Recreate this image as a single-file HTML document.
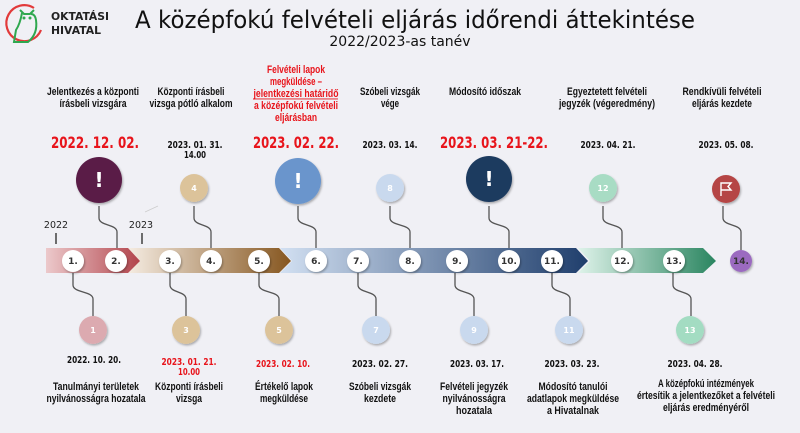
<!DOCTYPE html>
<html><head><meta charset="utf-8"><style>
html,body{margin:0;padding:0;background:#f0f0f5;}
svg{display:block}
.l{font-family:"Liberation Sans",sans-serif;font-size:11px;fill:#111;text-anchor:middle;font-weight:bold;}
.d{font-family:"DejaVu Sans",sans-serif;font-size:9.5px;font-weight:bold;fill:#111;text-anchor:middle;}
.D{font-family:"DejaVu Sans",sans-serif;font-size:16px;font-weight:bold;fill:#e8141b;text-anchor:middle;}
.n{font-family:"DejaVu Sans",sans-serif;font-size:9px;font-weight:bold;fill:#333;text-anchor:middle;}
.c{font-family:"DejaVu Sans",sans-serif;font-size:8px;font-weight:bold;fill:#fff;text-anchor:middle;}
.w{stroke:#555;stroke-width:1.3;fill:none}
</style></head><body>
<svg width="800" height="433" viewBox="0 0 800 433" xmlns="http://www.w3.org/2000/svg">
<defs>
<linearGradient id="gr" x1="0" x2="1"><stop offset="0" stop-color="#ecc9cb"/><stop offset="1" stop-color="#b2434b"/></linearGradient>
<linearGradient id="gb" x1="0" x2="1"><stop offset="0" stop-color="#f5ece2"/><stop offset="1" stop-color="#86561f"/></linearGradient>
<linearGradient id="gu" x1="0" x2="1"><stop offset="0" stop-color="#d2e0f2"/><stop offset="1" stop-color="#1f3e6c"/></linearGradient>
<linearGradient id="gg" x1="0" x2="1"><stop offset="0" stop-color="#dff3ea"/><stop offset="1" stop-color="#2a8560"/></linearGradient>
<filter id="sh" x="-30%" y="-30%" width="160%" height="160%"><feDropShadow dx="1" dy="1.5" stdDeviation="1" flood-opacity="0.3"/></filter>
</defs>
<rect width="800" height="433" fill="#f0f0f5"/>
<!-- logo -->
<path d="M34 8 A18 18 0 1 0 41 30" stroke="#e23a3a" stroke-width="2.2" fill="none"/>
<path d="M20 10 L24 14 L30 14 L34 10 M22 13 Q20 24 16 30 L14 42 L28 42 Q38 34 36 20 Q35 14 31 14" stroke="#2fa84f" stroke-width="2" fill="none"/>
<circle cx="24" cy="18" r="1.5" fill="#2fa84f"/><circle cx="30" cy="18" r="1.5" fill="#2fa84f"/>
<text x="51" y="20" font-family="DejaVu Sans,sans-serif" font-weight="bold" font-size="11" fill="#222" textLength="58" lengthAdjust="spacingAndGlyphs">OKTATÁSI</text>
<text x="51" y="34" font-family="DejaVu Sans,sans-serif" font-weight="bold" font-size="11" fill="#222" textLength="50" lengthAdjust="spacingAndGlyphs">HIVATAL</text>
<text x="135" y="28" font-family="DejaVu Sans,sans-serif" font-size="24" fill="#111" textLength="560" lengthAdjust="spacingAndGlyphs">A középfokú felvételi eljárás időrendi áttekintése</text>
<text x="400" y="46" font-family="DejaVu Sans,sans-serif" font-size="14" fill="#111" text-anchor="middle">2022/2023-as tanév</text>

<!-- top labels -->
<text class="l" x="93" y="95" textLength="92" lengthAdjust="spacingAndGlyphs">Jelentkezés a központi</text>
<text class="l" x="93" y="107" textLength="67" lengthAdjust="spacingAndGlyphs">írásbeli vizsgára</text>
<text class="l" x="191" y="95" textLength="67" lengthAdjust="spacingAndGlyphs">Központi írásbeli</text>
<text class="l" x="191" y="107" textLength="83" lengthAdjust="spacingAndGlyphs">vizsga pótló alkalom</text>
<g fill="#e8141b">
<text class="l" style="fill:#e8141b" x="296" y="73" textLength="58" lengthAdjust="spacingAndGlyphs">Felvételi lapok</text>
<text class="l" style="fill:#e8141b" x="296" y="85" textLength="52" lengthAdjust="spacingAndGlyphs">megküldése –</text>
<text class="l" style="fill:#e8141b" x="296" y="97" textLength="85" lengthAdjust="spacingAndGlyphs">jelentkezési határidő</text>
<rect x="253" y="98.5" width="85" height="0.9"/>
<text class="l" style="fill:#e8141b" x="296" y="109" textLength="84" lengthAdjust="spacingAndGlyphs">a középfokú felvételi</text>
<text class="l" style="fill:#e8141b" x="296" y="121" textLength="42" lengthAdjust="spacingAndGlyphs">eljárásban</text>
</g>
<text class="l" x="390" y="95" textLength="60" lengthAdjust="spacingAndGlyphs">Szóbeli vizsgák</text>
<text class="l" x="390" y="107" textLength="18" lengthAdjust="spacingAndGlyphs">vége</text>
<text class="l" x="485" y="95" textLength="72" lengthAdjust="spacingAndGlyphs">Módosító időszak</text>
<text class="l" x="607" y="95" textLength="80" lengthAdjust="spacingAndGlyphs">Egyeztetett felvételi</text>
<text class="l" x="607" y="107" textLength="96" lengthAdjust="spacingAndGlyphs">jegyzék (végeredmény)</text>
<text class="l" x="722" y="95" textLength="79" lengthAdjust="spacingAndGlyphs">Rendkívüli felvételi</text>
<text class="l" x="722" y="107" textLength="60" lengthAdjust="spacingAndGlyphs">eljárás kezdete</text>

<!-- top dates -->
<text class="D" x="95" y="148" textLength="88" lengthAdjust="spacingAndGlyphs">2022. 12. 02.</text>
<text class="d" x="195" y="148" textLength="55" lengthAdjust="spacingAndGlyphs">2023. 01. 31.</text>
<text class="d" x="195" y="158" textLength="22" lengthAdjust="spacingAndGlyphs">14.00</text>
<text class="D" x="296" y="148" textLength="86" lengthAdjust="spacingAndGlyphs">2023. 02. 22.</text>
<text class="d" x="390" y="148" textLength="55" lengthAdjust="spacingAndGlyphs">2023. 03. 14.</text>
<text class="D" x="494" y="148" textLength="108" lengthAdjust="spacingAndGlyphs">2023. 03. 21-22.</text>
<text class="d" x="608" y="148" textLength="55" lengthAdjust="spacingAndGlyphs">2023. 04. 21.</text>
<text class="d" x="726" y="148" textLength="55" lengthAdjust="spacingAndGlyphs">2023. 05. 08.</text>

<!-- top circles -->
<g filter="url(#sh)">
<circle cx="99" cy="180" r="23" fill="#5a1f47"/>
<circle cx="194" cy="188" r="14" fill="#dcc39a"/>
<circle cx="298" cy="181" r="23" fill="#6a95cc"/>
<circle cx="390" cy="188" r="14" fill="#c9d9ee"/>
<circle cx="489" cy="179" r="23" fill="#1f3a5f"/>
<circle cx="603" cy="188" r="14" fill="#a8dcc4"/>
<circle cx="726" cy="189" r="14" fill="#b54545"/>
</g>
<g font-family="DejaVu Sans,sans-serif" font-weight="bold" font-size="20" fill="#fff" text-anchor="middle">
<text x="99" y="187">!</text><text x="298" y="188">!</text><text x="489" y="186">!</text></g>
<text class="c" x="194" y="191">4</text><text class="c" x="390" y="191">8</text><text class="c" x="603" y="191">12</text>
<path d="M721 196 V183 H731 L728 186.5 L731 190 H721" stroke="#fff" stroke-width="1.4" fill="none"/>

<!-- top connectors -->
<g class="w">
<path d="M99 206 V218 C99 226 117 224 117 232 V248"/>
<path d="M194 206 V218 C194 226 211 224 211 232 V248"/>
<path d="M298 206 V218 C298 226 316 224 316 232 V248"/>
<path d="M390 206 V218 C390 226 410 224 410 232 V248"/>
<path d="M489 206 V218 C489 226 509 224 509 232 V248"/>
<path d="M603 206 V218 C603 226 622 224 622 232 V248"/>
<path d="M723 206 V218 C723 226 741 224 741 232 V250"/>
</g>
<path d="M145 212 L158 206" stroke="#ccc" stroke-width="0.7"/>
<text x="56" y="228" font-family="DejaVu Sans,sans-serif" font-size="9.5" fill="#222" text-anchor="middle">2022</text>
<text x="141" y="228" font-family="DejaVu Sans,sans-serif" font-size="9.5" fill="#222" text-anchor="middle">2023</text>
<rect x="55.3" y="233" width="1.4" height="11" fill="#333"/>
<rect x="141.3" y="233" width="1.4" height="11" fill="#333"/>

<!-- band -->
<polygon points="578,248 703,248 716,261 703,273 578,273 590,261" fill="url(#gg)"/>
<polygon points="280,248 576,248 588,261 576,273 280,273 292,261" fill="url(#gu)"/>
<polygon points="128,248 279,248 291,261 279,273 128,273 140,261" fill="url(#gb)"/>
<polygon points="46,248 128,248 140,261 128,273 46,273" fill="url(#gr)"/>

<!-- bottom connectors -->
<g class="w">
<path d="M73 273 V285 C73 293 93 291 93 299 V316"/>
<path d="M170 273 V285 C170 293 186 291 186 299 V316"/>
<path d="M259 273 V285 C259 293 279 291 279 299 V316"/>
<path d="M358 273 V285 C358 293 376 291 376 299 V316"/>
<path d="M455 273 V285 C455 293 474 291 474 299 V316"/>
<path d="M552 273 V285 C552 293 570 291 570 299 V316"/>
<path d="M673 273 V285 C673 293 691 291 691 299 V316"/>
</g>

<!-- nodes -->
<g fill="#fff" filter="url(#sh)">
<circle cx="73" cy="261" r="11"/><circle cx="116" cy="261" r="11"/><circle cx="170" cy="261" r="11"/>
<circle cx="211" cy="261" r="11"/><circle cx="259" cy="261" r="11"/><circle cx="316" cy="261" r="11"/>
<circle cx="358" cy="261" r="11"/><circle cx="410" cy="261" r="11"/><circle cx="457" cy="261" r="11"/>
<circle cx="509" cy="261" r="11"/><circle cx="552" cy="261" r="11"/><circle cx="622" cy="261" r="11"/>
<circle cx="674" cy="261" r="11"/><circle cx="741" cy="261" r="11" fill="#9b6bc0"/>
</g>
<g>
<text class="n" x="73" y="264">1.</text><text class="n" x="116" y="264">2.</text><text class="n" x="170" y="264">3.</text>
<text class="n" x="211" y="264">4.</text><text class="n" x="259" y="264">5.</text><text class="n" x="316" y="264">6.</text>
<text class="n" x="358" y="264">7.</text><text class="n" x="410" y="264">8.</text><text class="n" x="457" y="264">9.</text>
<text class="n" x="509" y="264">10.</text><text class="n" x="552" y="264">11.</text><text class="n" x="622" y="264">12.</text>
<text class="n" x="674" y="264">13.</text><text class="n" x="741" y="264">14.</text>
</g>

<!-- bottom circles -->
<g filter="url(#sh)">
<circle cx="93" cy="330" r="14" fill="#dcaab0"/>
<circle cx="186" cy="330" r="14" fill="#dcc39a"/>
<circle cx="279" cy="330" r="14" fill="#dcc39a"/>
<circle cx="376" cy="330" r="14" fill="#c9d9ee"/>
<circle cx="474" cy="330" r="14" fill="#c9d9ee"/>
<circle cx="569" cy="330" r="14" fill="#c9d9ee"/>
<circle cx="690" cy="330" r="14" fill="#a3dcc2"/>
</g>
<text class="c" x="93" y="333">1</text><text class="c" x="186" y="333">3</text><text class="c" x="279" y="333">5</text>
<text class="c" x="376" y="333">7</text><text class="c" x="474" y="333">9</text><text class="c" x="569" y="333">11</text><text class="c" x="690" y="333">13</text>

<!-- bottom dates -->
<text class="d" x="94" y="363" textLength="54" lengthAdjust="spacingAndGlyphs">2022. 10. 20.</text>
<text class="d" style="fill:#e8141b" x="189" y="365" textLength="55" lengthAdjust="spacingAndGlyphs">2023. 01. 21.</text>
<text class="d" style="fill:#e8141b" x="189" y="375" textLength="22" lengthAdjust="spacingAndGlyphs">10.00</text>
<text class="d" style="fill:#e8141b" x="283" y="367" textLength="54" lengthAdjust="spacingAndGlyphs">2023. 02. 10.</text>
<text class="d" x="380" y="367" textLength="56" lengthAdjust="spacingAndGlyphs">2023. 02. 27.</text>
<text class="d" x="477" y="367" textLength="54" lengthAdjust="spacingAndGlyphs">2023. 03. 17.</text>
<text class="d" x="572" y="367" textLength="55" lengthAdjust="spacingAndGlyphs">2023. 03. 23.</text>
<text class="d" x="695" y="367" textLength="55" lengthAdjust="spacingAndGlyphs">2023. 04. 28.</text>

<!-- bottom labels -->
<text class="l" x="96" y="390" textLength="86" lengthAdjust="spacingAndGlyphs">Tanulmányi területek</text>
<text class="l" x="96" y="402" textLength="99" lengthAdjust="spacingAndGlyphs">nyilvánosságra hozatala</text>
<text class="l" x="189" y="390" textLength="68" lengthAdjust="spacingAndGlyphs">Központi írásbeli</text>
<text class="l" x="189" y="402" textLength="26" lengthAdjust="spacingAndGlyphs">vizsga</text>
<text class="l" x="284" y="390" textLength="58" lengthAdjust="spacingAndGlyphs">Értékelő lapok</text>
<text class="l" x="284" y="402" textLength="48" lengthAdjust="spacingAndGlyphs">megküldése</text>
<text class="l" x="380" y="390" textLength="62" lengthAdjust="spacingAndGlyphs">Szóbeli vizsgák</text>
<text class="l" x="380" y="402" textLength="32" lengthAdjust="spacingAndGlyphs">kezdete</text>
<text class="l" x="474" y="390" textLength="68" lengthAdjust="spacingAndGlyphs">Felvételi jegyzék</text>
<text class="l" x="474" y="402" textLength="63" lengthAdjust="spacingAndGlyphs">nyilvánosságra</text>
<text class="l" x="474" y="414" textLength="36" lengthAdjust="spacingAndGlyphs">hozatala</text>
<text class="l" x="573" y="390" textLength="69" lengthAdjust="spacingAndGlyphs">Módosító tanulói</text>
<text class="l" x="573" y="402" textLength="92" lengthAdjust="spacingAndGlyphs">adatlapok megküldése</text>
<text class="l" x="573" y="414" textLength="52" lengthAdjust="spacingAndGlyphs">a Hivatalnak</text>
<text class="l" x="706" y="387" textLength="96" lengthAdjust="spacingAndGlyphs">A középfokú intézmények</text>
<text class="l" x="706" y="399" textLength="138" lengthAdjust="spacingAndGlyphs">értesítik a jelentkezőket a felvételi</text>
<text class="l" x="706" y="411" textLength="86" lengthAdjust="spacingAndGlyphs">eljárás eredményéről</text>
</svg>
</body></html>
